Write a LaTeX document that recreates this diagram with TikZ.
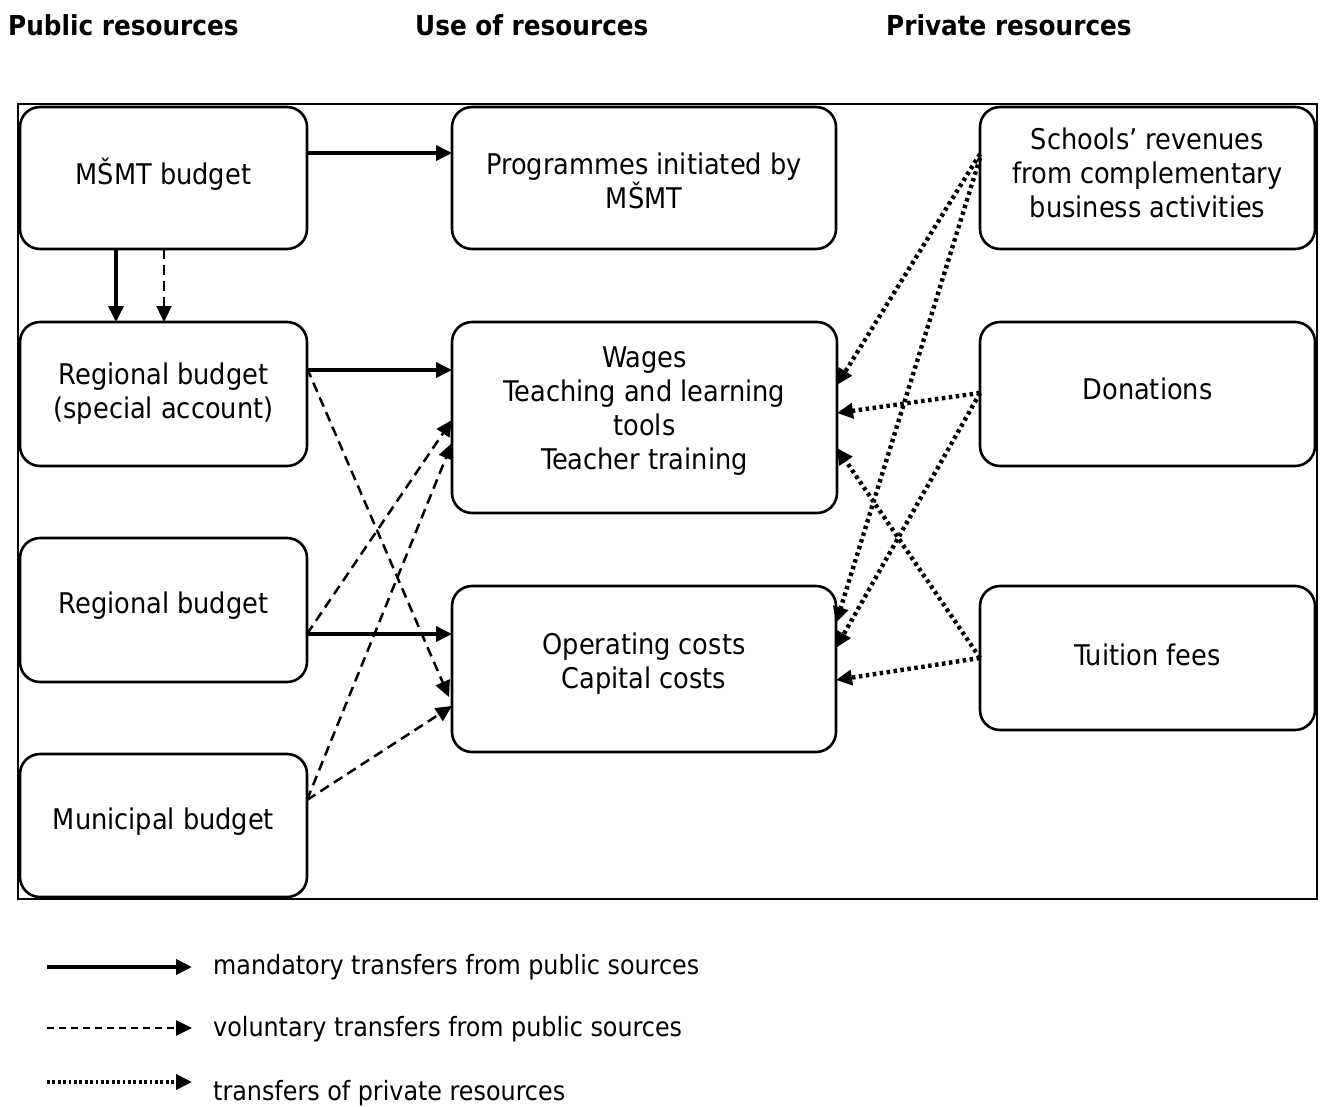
\documentclass[tikz,border=0pt]{standalone}
\usepackage{fontspec}
\setmainfont{DejaVu Sans Condensed}
\usetikzlibrary{arrows.meta,calc}
\begin{document}
\begin{tikzpicture}[x=1pt,y=-1pt,
 box/.style={draw, line width=2.6pt, rounded corners=20pt, inner sep=0pt, outer sep=0pt},
 txt/.style={align=center, font=\fontsize{28.5}{34}\selectfont, inner sep=0pt},
 ttl/.style={anchor=west, font=\fontsize{27.5}{30}\selectfont\bfseries, inner sep=0pt},
 leg/.style={anchor=west, font=\fontsize{26.5}{30}\selectfont, inner sep=0pt},
 tip/.style={-{Triangle[length=16pt,width=15pt]}},
 mand/.style={tip, line width=3.6pt},
 vol/.style={tip, line width=2.5pt, dash pattern=on 10pt off 6pt},
 priv/.style={tip, line width=4.4pt, dash pattern=on 3.5pt off 3.5pt},
]
\useasboundingbox (0,0) rectangle (1322,1107);

% titles
\node[ttl] (t1) at (8,25) {Public resources};
\node[ttl] (t2) at (415,25) {Use of resources};
\node[ttl] (t3) at (886,25) {Private resources};

% frame
\node[draw, line width=1.8pt, minimum width=1299pt, minimum height=795pt, inner sep=0pt] (frame) at (667.5,501.5) {};

% boxes
\node[box, minimum width=287pt, minimum height=142pt] (msmt) at (163.5,178) {};
\node[box, minimum width=287pt, minimum height=144pt] (regs) at (163.5,394) {};
\node[box, minimum width=287pt, minimum height=144pt] (reg)  at (163.5,610) {};
\node[box, minimum width=287pt, minimum height=143pt] (mun)  at (163.5,825.5) {};
\node[box, minimum width=384pt, minimum height=142pt] (prog) at (644,178) {};
\node[box, minimum width=385pt, minimum height=191pt] (wages) at (644.5,417.5) {};
\node[box, minimum width=384pt, minimum height=166pt] (oper) at (644,669) {};
\node[box, minimum width=335pt, minimum height=142pt] (school) at (1147.5,178) {};
\node[box, minimum width=335pt, minimum height=144pt] (don) at (1147.5,394) {};
\node[box, minimum width=335pt, minimum height=144pt] (tuit) at (1147.5,658) {};

% texts
\node[txt] (msmtT) at (163.5,174) {MŠMT budget};
\node[txt] (regsT) at (163.5,394) {Regional budget\\(special account)};
\node[txt] (regT) at (163.5,606) {Regional budget};
\node[txt] (munT) at (163.5,822) {Municipal budget};
\node[txt] (progT) at (644,181) {Programmes initiated by\\MŠMT};
\node[txt] (wagesT) at (644.5,411) {Wages\\Teaching and learning\\tools\\Teacher training};
\node[txt] (operT) at (644,664) {Operating costs\\Capital costs};
\node[txt] (schoolT) at (1147.5,173) {Schools’ revenues\\from complementary\\business activities};
\node[txt] (donT) at (1147.5,389) {Donations};
\node[txt] (tuitT) at (1147.5,655) {Tuition fees};

% public connectors
\draw[mand] ($(msmt.east)+(0,-25)$) -- ($(prog.west)+(0,-25)$);
\draw[mand] ($(msmt.south)+(-47.5,0)$) -- ($(regs.north)+(-47.5,0)$);
\draw[vol]  ($(msmt.south)+(0.5,0)$) -- ($(regs.north)+(0.5,0)$);
\draw[mand] ($(regs.east)+(0,-24)$) -- ($(wages.west)+(0,-47.5)$);
\draw[vol]  ($(regs.east)+(0,-26)$) -- ($(oper.west)+(-3,28)$);
\draw[vol]  ($(reg.east)+(0,24)$) -- ($(wages.west)+(0,2.5)$);
\draw[mand] ($(reg.east)+(0,24)$) -- ($(oper.west)+(0,-35)$);
\draw[vol]  ($(mun.east)+(0,-25.5)$) -- ($(wages.west)+(0,25.5)$);
\draw[vol]  ($(mun.east)+(0,-25.5)$) -- ($(oper.west)+(0,37)$);

% private connectors
\draw[priv] ($(school.west)+(0,-24)$) -- ($(wages.east)+(0,-32.5)$);
\draw[priv] ($(school.west)+(0,-20)$) -- ($(oper.east)+(0,-46)$);
\draw[priv] ($(don.west)+(0,-1)$) -- ($(wages.east)+(0,-4.5)$);
\draw[priv] ($(don.west)+(0,-1)$) -- ($(oper.east)+(0,-21)$);
\draw[priv] ($(tuit.west)+(0,0)$) -- ($(wages.east)+(0,30.5)$);
\draw[priv] ($(tuit.west)+(0,0)$) -- ($(oper.east)+(0,11)$);

% legend
\coordinate (l1a) at (47,967);  \coordinate (l1b) at (192,967);
\coordinate (l2a) at (47,1028); \coordinate (l2b) at (192,1028);
\coordinate (l3a) at (47,1082); \coordinate (l3b) at (192,1082);
\draw[tip, line width=3.6pt] (l1a) -- (l1b);
\draw[tip, line width=2.6pt, dash pattern=on 7pt off 5pt] (l2a) -- (l2b);
\draw[tip, line width=3.8pt, dash pattern=on 2.7pt off 2.7pt] (l3a) -- (l3b);
\node[leg] (lt1) at (213,967) {mandatory transfers from public sources};
\node[leg] (lt2) at (213,1029) {voluntary transfers from public sources};
\node[leg] (lt3) at (213,1093) {transfers of private resources};
\end{tikzpicture}
\end{document}
